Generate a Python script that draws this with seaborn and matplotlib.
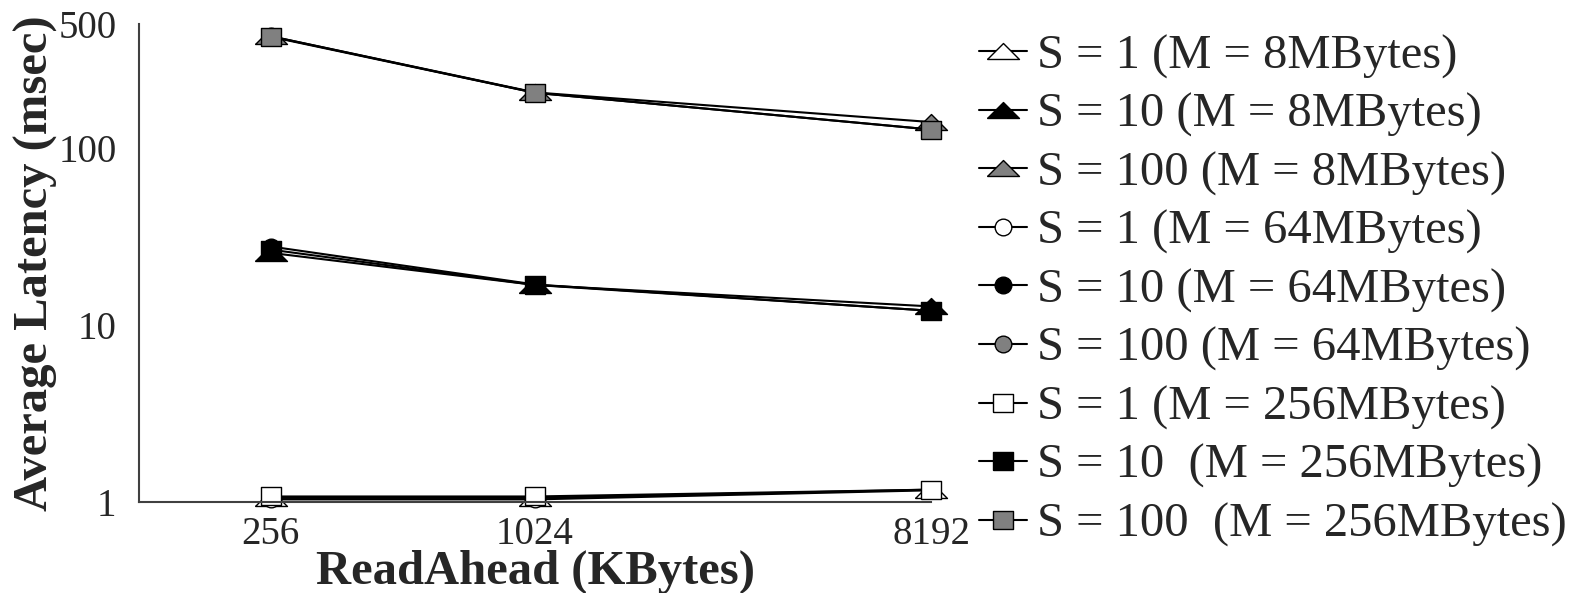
import matplotlib
matplotlib.use("Agg")
import matplotlib.pyplot as plt
import seaborn as sns
import pandas as pd
import numpy as np

# ---- data ----
readahead = [256, 1024, 8192]
s1_m8 = [1.05, 1.05, 1.17]
s10_m8 = [25.5, 16.8, 12.7]
s100_m8 = [428, 206, 140]
s1_m64 = [1.03, 1.03, 1.16]
s10_m64 = [27.7, 16.9, 12.0]
s100_m64 = [428, 205, 127]
s1_m256 = [1.07, 1.07, 1.17]
s10_m256 = [26.6, 16.8, 12.0]
s100_m256 = [425, 205, 127]

labels = ["S = 1 (M = 8MBytes)", "S = 10 (M = 8MBytes)", "S = 100 (M = 8MBytes)",
          "S = 1 (M = 64MBytes)", "S = 10 (M = 64MBytes)", "S = 100 (M = 64MBytes)",
          "S = 1 (M = 256MBytes)", "S = 10  (M = 256MBytes)", "S = 100  (M = 256MBytes)"]
series = [s1_m8, s10_m8, s100_m8, s1_m64, s10_m64, s100_m64, s1_m256, s10_m256, s100_m256]
ytick_vals = [1, 10, 100, 500]
xtick_vals = [256, 1024, 8192]

sns.set_theme(style="white")
plt.rcParams['font.family'] = ['Liberation Serif', 'DejaVu Serif']

tri = [(-1, -0.5), (1, -0.5), (0, 0.5), (-1, -0.5)]
sq = [(-1, -0.85), (1, -0.85), (1, 0.85), (-1, 0.85), (-1, -0.85)]
markers = [tri, tri, tri, 'o', 'o', 'o', sq, sq, sq]
msizes = [23, 23, 23, 12, 12, 12, 14.5, 14.5, 14.5]
fills = ['white', 'black', '#808080'] * 3

fig = plt.figure(figsize=(15.76, 5.93), dpi=100)
ax = fig.add_axes([0.088, 0.154, 0.503, 0.805])

for lab, vals, mk, ms, fc in zip(labels, series, markers, msizes, fills):
    df = pd.DataFrame({"x": readahead, "y": vals})
    sns.lineplot(data=df, x="x", y="y", ax=ax, color='black', linewidth=1.5,
                 marker=mk, markersize=ms, markerfacecolor=fc,
                 markeredgecolor='black', markeredgewidth=1.0,
                 label=lab, clip_on=False, legend=False)

ax.set_xscale('log', base=2)
ax.set_yscale('log')
ax.set_xlim(128, 8192)
ax.set_ylim(1, 500)
ax.set_xticks(xtick_vals)
ax.set_xticklabels([str(v) for v in xtick_vals])
ax.set_yticks(ytick_vals)
ax.set_yticklabels([str(v) for v in ytick_vals])
ax.minorticks_off()
ax.tick_params(axis='x', length=0, labelsize=28, pad=10)
ax.tick_params(axis='y', length=4, width=1, direction='in', labelsize=28, pad=16)

for side in ['top', 'right']:
    ax.spines[side].set_visible(False)
for side in ['left', 'bottom']:
    ax.spines[side].set_color('#404040')
    ax.spines[side].set_linewidth(1.5)

ax.set_xlabel("ReadAhead (KBytes)", fontsize=35, fontweight='bold', labelpad=-2)
ax.set_ylabel("Average Latency (msec)", fontsize=35, fontweight='bold', labelpad=0)

handles, labs = ax.get_legend_handles_labels()
fig.legend(handles, labs, loc='upper left', bbox_to_anchor=(0.621, 0.942),
           frameon=False, fontsize=35, handlelength=1.0, handletextpad=0.2,
           labelspacing=0.29, borderpad=0, borderaxespad=0)

fig.savefig("out.png", dpi=100)
